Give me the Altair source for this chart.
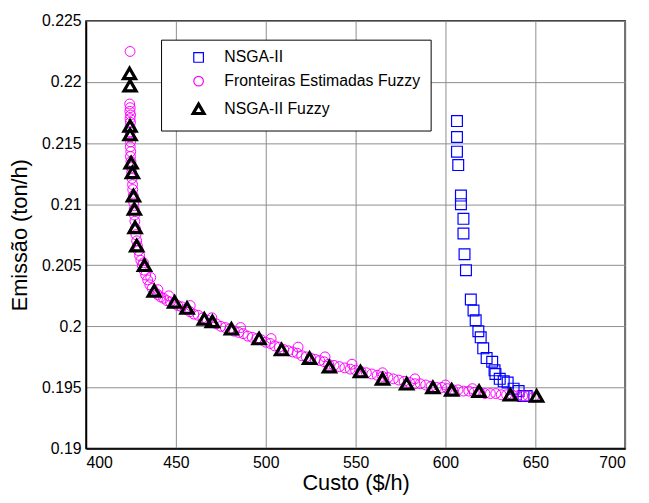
import altair as alt
import pandas as pd

series_names = ["NSGA-II", "Fronteiras Estimadas Fuzzy", "NSGA-II Fuzzy"]

# NSGA-II (blue squares)
nsga_x = [606.4, 606.4, 606.4, 607.1, 608.6, 608.6, 610.0, 610.0, 610.6, 611.4,
          614.1, 615.6, 616.8, 618.3, 619.6, 621.0, 622.9, 626.0, 627.3, 627.8,
          630.2, 632.4, 634.6, 637.9, 640.7, 643.4, 645.2]
nsga_y = [0.2168, 0.2155, 0.2143, 0.2132, 0.2107, 0.2100, 0.2088, 0.2076, 0.2059, 0.2046,
          0.2022, 0.2013, 0.2005, 0.1996, 0.1991, 0.1982, 0.1974, 0.1971, 0.1964, 0.1961,
          0.1957, 0.1955, 0.1954, 0.1949, 0.1947, 0.1943, 0.1943]

# Fronteiras Estimadas Fuzzy (magenta circles)
fuzzy_x = [424.5,
           424.3, 424.6, 424.4, 424.8, 424.5, 424.7, 424.5, 424.6, 424.4, 424.8,
           424.6, 424.9, 424.7, 425.0, 425.3, 425.4, 425.6, 425.9, 426.0, 426.3,
           426.6, 426.8, 427.0, 427.2, 427.5, 427.8, 428.2, 428.6, 429.2, 429.8,
           430.5, 431.3, 432.2, 433.2, 434.3, 435.5, 436.8, 438.2, 439.8, 441.5,
           443.2, 445.0, 447.0, 449.0, 451.0, 453.2, 455.5, 457.8, 460.0, 462.5,
           465.0, 467.5, 470.0, 472.5, 475.0, 477.5, 480.0, 482.5, 485.0, 487.5,
           490.0, 492.5, 495.0, 497.5, 500.0, 502.5, 505.0, 507.5, 510.0, 512.5,
           515.0, 517.5, 520.0, 522.5, 525.0, 527.5, 530.0, 532.5, 535.0, 538.0,
           541.0, 544.0, 547.0, 550.0, 553.0, 556.0, 559.0, 562.0, 565.0, 568.0,
           571.0, 574.0, 577.0, 580.0, 583.0, 586.0, 589.0, 592.0, 595.0, 598.0,
           601.0, 604.0, 607.0, 610.0, 613.0, 616.0, 619.0, 622.0, 625.0, 628.0,
           631.0, 634.0, 637.0, 640.0, 643.0, 646.0, 649.0,
           446.0, 458.0, 470.0, 486.0, 503.0, 518.0, 533.0, 548.0, 565.0, 583.0,
           600.0, 615.0, 432.0, 436.0, 440.0]
fuzzy_y = [0.2225,
           0.2182, 0.2179, 0.2176, 0.2173, 0.2170, 0.2167, 0.2163, 0.2159, 0.2155, 0.2151,
           0.2147, 0.2143, 0.2139, 0.2135, 0.2130, 0.2126, 0.2121, 0.2116, 0.2112, 0.2107,
           0.2101, 0.2096, 0.2091, 0.2086, 0.2080, 0.2075, 0.2070, 0.2066, 0.2062, 0.2058,
           0.2054, 0.2050, 0.2046, 0.2042, 0.2038, 0.2034, 0.2031, 0.2028, 0.2026, 0.2024,
           0.2023, 0.2021, 0.2020, 0.2019, 0.2017, 0.2016, 0.2014, 0.2012, 0.2010, 0.2009,
           0.2007, 0.2005, 0.2003, 0.2002, 0.2000, 0.1999, 0.1998, 0.1996, 0.1995, 0.1994,
           0.1992, 0.1991, 0.1990, 0.1989, 0.1987, 0.1986, 0.1984, 0.1983, 0.1981, 0.1980,
           0.1979, 0.1978, 0.1976, 0.1975, 0.1974, 0.1973, 0.1972, 0.1971, 0.1969, 0.1968,
           0.1967, 0.1966, 0.1965, 0.1964, 0.1963, 0.1962, 0.1961, 0.1960, 0.1959, 0.1958,
           0.1957, 0.1956, 0.1955, 0.1954, 0.1953, 0.1953, 0.1952, 0.1951, 0.1950, 0.1950,
           0.1949, 0.1948, 0.1948, 0.1947, 0.1947, 0.1946, 0.1946, 0.1945, 0.1945, 0.1945,
           0.1944, 0.1944, 0.1944, 0.1943, 0.1943, 0.1943, 0.1942,
           0.2025, 0.2017, 0.2007, 0.1999, 0.1990, 0.1983, 0.1975, 0.1969, 0.1962, 0.1957,
           0.1952, 0.1949, 0.2052, 0.2040, 0.2030]

# NSGA-II Fuzzy (black triangles)
tri_x = [424.2, 424.5, 424.5, 424.5, 425.1, 425.8, 426.4, 426.9, 427.3, 428.2,
         432.5, 437.9, 449.3, 456.2, 465.8, 470.3, 480.9, 496.3, 508.8, 524.4,
         535.4, 552.7, 565.0, 578.4, 593.0, 603.5, 618.7, 636.1, 650.7]
tri_y = [0.2207, 0.2197, 0.2164, 0.2157, 0.2134, 0.2126, 0.2107, 0.2096, 0.2081, 0.2066,
         0.2050, 0.2029, 0.2020, 0.2015, 0.2006, 0.2004, 0.1998, 0.1990, 0.1981, 0.1974,
         0.1967, 0.1963, 0.1957, 0.1953, 0.1950, 0.1948, 0.1947, 0.1944, 0.1943]

x_ticks = [400, 450, 500, 550, 600, 650, 700]
y_ticks = [0.19, 0.195, 0.2, 0.205, 0.21, 0.215, 0.22, 0.225]

marker_sizes = [120, 100, 150]
marker_strokes = [1.2, 1.0, 3.2]

df = pd.concat([
    pd.DataFrame({"custo": nsga_x, "emissao": nsga_y, "serie": series_names[0],
                  "sz": marker_sizes[0], "sw": marker_strokes[0], "k": 0}),
    pd.DataFrame({"custo": fuzzy_x, "emissao": fuzzy_y, "serie": series_names[1],
                  "sz": marker_sizes[1], "sw": marker_strokes[1], "k": 1}),
    pd.DataFrame({"custo": tri_x, "emissao": tri_y, "serie": series_names[2],
                  "sz": marker_sizes[2], "sw": marker_strokes[2], "k": 2}),
], ignore_index=True)

FONT = "Liberation Sans"

chart = alt.Chart(df).mark_point(filled=False, opacity=1).encode(
    x=alt.X("custo:Q", title="Custo ($/h)",
            scale=alt.Scale(domain=[400, 700], nice=False, zero=False),
            axis=alt.Axis(values=x_ticks, format="d", labelPadding=6, titlePadding=3)),
    y=alt.Y("emissao:Q", title="Emissão (ton/h)",
            scale=alt.Scale(domain=[0.19, 0.225], nice=False, zero=False),
            axis=alt.Axis(values=y_ticks, format=".3~f", labelPadding=5, titlePadding=10)),
    color=alt.Color("serie:N", title=None, sort=series_names,
                    scale=alt.Scale(domain=series_names, range=["#0000ff", "#ff00ff", "#000000"]),
                    legend=alt.Legend(
                        orient="none", legendX=76, legendY=19,
                        symbolStrokeWidth=alt.ExprRef("datum.value === 'NSGA-II Fuzzy' ? 3.2 : 1.2"),
                        symbolSize=alt.ExprRef("datum.value === 'NSGA-II Fuzzy' ? 120 : 95"),
                    )),
    shape=alt.Shape("serie:N", title=None, sort=series_names,
                    scale=alt.Scale(domain=series_names, range=["square", "circle", "triangle-up"])),
    size=alt.Size("sz:Q", scale=None, legend=None),
    strokeWidth=alt.StrokeWidth("sw:Q", scale=None, legend=None),
    order=alt.Order("k:Q"),
).properties(
    width=546,
    height=433,
    autosize=alt.AutoSizeParams(type="none"),
    padding={"left": 79, "top": 10, "right": 16, "bottom": 44},
).configure(
    font=FONT,
    background="white",
).configure_view(
    stroke="black",
    strokeWidth=1.5,
).configure_axis(
    labelFont=FONT,
    titleFont=FONT,
    labelFontSize=16,
    titleFontSize=22,
    titleFontWeight="normal",
    labelColor="black",
    titleColor="black",
    domainColor="black",
    domainWidth=1.5,
    ticks=False,
    grid=True,
    gridColor="#8c8c8c",
    gridWidth=1,
    gridOpacity=1,
).configure_legend(
    labelFont=FONT,
    labelFontSize=16,
    labelColor="black",
    labelLimit=400,
    strokeColor="black",
    fillColor="white",
    padding=10,
    rowPadding=8,
    symbolOffset=20,
    labelOffset=18,
    cornerRadius=0,
)

chart.save("out.html", embed_options={"renderer": "svg", "actions": False})
